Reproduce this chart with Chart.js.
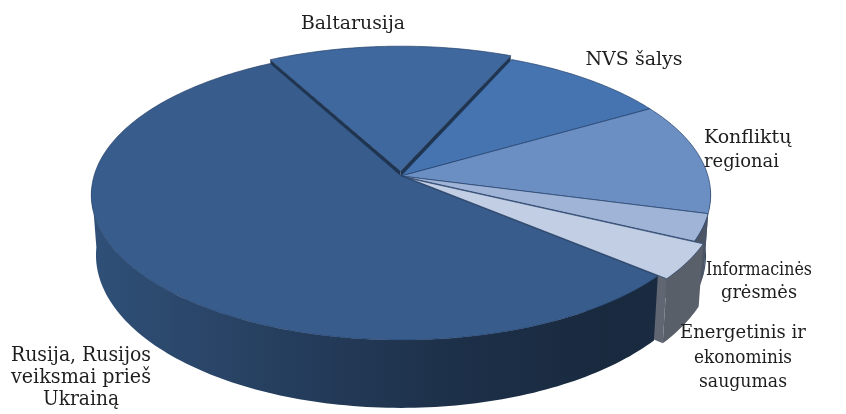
<!DOCTYPE html>
<html>
<head>
<meta charset="utf-8">
<script src="https://cdn.jsdelivr.net/npm/chart.js@4.4.1/dist/chart.umd.min.js"></script>
<style>
  html, body { margin: 0; padding: 0; background: #fff; }
</style>
</head>
<body>
<canvas id="myChart" width="846" height="414"></canvas>
<script>
// ------------------------------ DUOMENYS ------------------------------
var labels = [
    'Baltarusija',
    'NVS šalys',
    'Konfliktų regionai',
    'Informacinės grėsmės',
    'Energetinis ir ekonominis saugumas',
    'Rusija, Rusijos veiksmai prieš Ukrainą'
];
var values = [14.5, 10, 12.5, 3, 4, 56];
var colors = ['#3e689e', '#4574b0', '#6b8ec3', '#a0b4d7', '#c1cee4', '#385d8c'];
var explode = [7, 0, 0, 0, 6, 0];

// label layout: lines [text, max width], anchor, font size
var labelBoxes = [
    { lines: [['Baltarusija', 104]], x: 353, y: 29, size: 19, align: 'center' },
    { lines: [['NVS šalys', 98]], x: 634, y: 65, size: 19, align: 'center' },
    { lines: [['Konfliktų', 96], ['regionai', 75]], x: 704, y: 143, size: 19, align: 'left', gap: 24 },
    { lines: [['Informacinės', 106], ['grėsmės', 76]], x: 759, y: 275, size: 19, align: 'center', gap: 23 },
    { lines: [['Energetinis ir', 126], ['ekonominis', 98], ['saugumas', 88]], x: 743, y: 338, size: 18, align: 'center', gap: 24.5 },
    { lines: [['Rusija, Rusijos', 140], ['veiksmai prieš', 140], ['Ukrainą', 76]], x: 81, y: 361, size: 20, align: 'center', gap: 22 }
];

// perspective of the tilted pie
var X0 = 401, YC = 176, A = 307, B = 142.5, K = 0.131, T = 59, SHRINK = 0.985;

function P(u, v, d) {
    var den = 1 - K * v;
    var sx = 1 - (1 - SHRINK) * d;
    return [X0 + sx * A * u / den, YC + (B * v + d * T) / den];
}

function shade(hex, f) {
    var n = parseInt(hex.slice(1), 16);
    var r = Math.round(((n >> 16) & 255) * f);
    var g = Math.round(((n >> 8) & 255) * f);
    var b = Math.round((n & 255) * f);
    return 'rgb(' + r + ',' + g + ',' + b + ')';
}

function arcPts(cu, cv, a0, a1, d, pts) {
    var steps = Math.max(2, Math.ceil(Math.abs(a1 - a0) / 0.02));
    for (var i = 0; i <= steps; i++) {
        var t = a0 + (a1 - a0) * i / steps;
        pts.push(P(cu + Math.cos(t), cv + Math.sin(t), d));
    }
    return pts;
}

function fillPoly(ctx, pts, fill, stroke) {
    ctx.beginPath();
    ctx.moveTo(pts[0][0], pts[0][1]);
    for (var i = 1; i < pts.length; i++) ctx.lineTo(pts[i][0], pts[i][1]);
    ctx.closePath();
    ctx.fillStyle = fill;
    ctx.fill();
    if (stroke) {
        ctx.strokeStyle = stroke;
        ctx.lineWidth = 0.9;
        ctx.stroke();
    }
}

var pie3d = {
    id: 'pie3d',
    beforeDatasetsDraw: function (chart) {
        var ctx = chart.ctx;
        var arcs = chart.getDatasetMeta(0).data;
        var slices = arcs.map(function (el) {
            var p = el.getProps(['startAngle', 'endAngle', 'outerRadius'], true);
            var off = (el.options.offset || 0) / p.outerRadius;
            var mid = (p.startAngle + p.endAngle) / 2;
            return { s: p.startAngle, e: p.endAngle, cu: off * Math.cos(mid), cv: off * Math.sin(mid), color: el.options.backgroundColor };
        });
        ctx.save();

        // radial cut faces
        slices.forEach(function (sl) {
            [[sl.s, Math.cos(sl.s) < 0], [sl.e, Math.cos(sl.e) > 0]].forEach(function (edge) {
                if (!edge[1]) return;
                var c = Math.cos(edge[0]), s = Math.sin(edge[0]);
                var pts = [P(sl.cu, sl.cv, 0), P(sl.cu + c, sl.cv + s, 0), P(sl.cu + c, sl.cv + s, 1), P(sl.cu, sl.cv, 1)];
                fillPoly(ctx, pts, shade(sl.color, 0.5));
            });
        });

        // outer walls (front half only)
        var lo = Math.asin(K) - 0.05, hi = Math.PI - Math.asin(K) + 0.05;
        slices.forEach(function (sl) {
            [0, 2 * Math.PI, -2 * Math.PI].forEach(function (shift) {
                var a0 = Math.max(sl.s + shift, lo), a1 = Math.min(sl.e + shift, hi);
                if (a1 <= a0) return;
                var top = arcPts(sl.cu, sl.cv, a0, a1, 0, []);
                var bot = arcPts(sl.cu, sl.cv, a1, a0, 1, []);
                var grad = ctx.createLinearGradient(90, 0, 715, 0);
                grad.addColorStop(0, shade(sl.color, 0.86));
                grad.addColorStop(0.33, shade(sl.color, 0.66));
                grad.addColorStop(0.58, shade(sl.color, 0.52));
                grad.addColorStop(0.82, shade(sl.color, 0.45));
                grad.addColorStop(1, shade(sl.color, 0.47));
                fillPoly(ctx, top.concat(bot), grad);
            });
        });

        // top faces
        slices.forEach(function (sl) {
            var pts = [P(sl.cu, sl.cv, 0)];
            arcPts(sl.cu, sl.cv, sl.s, sl.e, 0, pts);
            fillPoly(ctx, pts, sl.color, 'rgba(35,62,105,0.75)');
        });

        // labels
        ctx.fillStyle = '#1e1e1e';
        ctx.textBaseline = 'alphabetic';
        labelBoxes.forEach(function (lb) {
            ctx.font = lb.size + 'px "DejaVu Serif"';
            ctx.textAlign = lb.align;
            lb.lines.forEach(function (line, i) {
                ctx.fillText(line[0], lb.x, lb.y + i * (lb.gap || 0), line[1]);
            });
        });

        ctx.restore();
        return false;
    }
};

var myPieChart = new Chart(document.getElementById('myChart'), {
    type: 'pie',
    data: {
        labels: labels,
        datasets: [{
            data: values,
            backgroundColor: colors,
            offset: explode,
            borderWidth: 0
        }]
    },
    options: {
        responsive: false,
        animation: false,
        rotation: -28.4,
        plugins: {
            legend: { display: false },
            tooltip: { enabled: false }
        }
    },
    plugins: [pie3d]
});
</script>
</body>
</html>
